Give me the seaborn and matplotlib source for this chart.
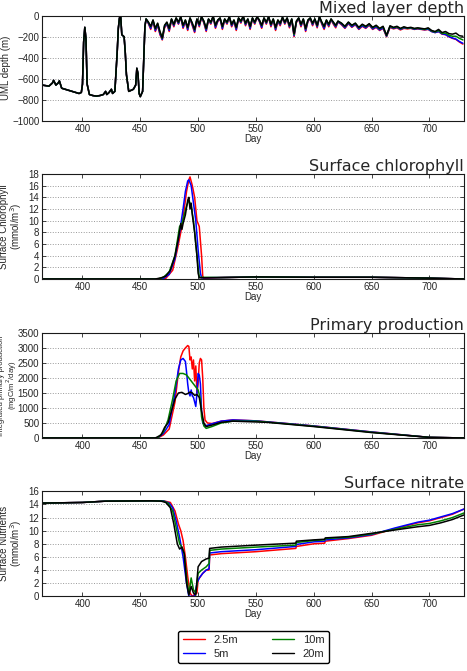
import numpy as np
import pandas as pd
import seaborn as sns
import matplotlib.pyplot as plt

depths = ['2.5m', '5m', '10m', '20m']
colors = ['red', 'blue', 'green', 'black']

# mixed layer depth - early part shared by all runs
mld_early_day = [365, 368, 371, 374, 375, 377, 379, 380, 382, 385,
                 388, 391, 394, 397, 399, 400, 401, 402, 403, 404,
                 406, 409, 412, 415, 418, 420, 421, 423, 425, 426,
                 428, 430, 431, 432, 433, 434, 435, 436, 437, 438,
                 440, 442, 444, 446, 447, 448, 449, 450, 452, 453, 454]
mld_early = [-660, -665, -670, -640, -615, -660, -640, -620, -690, -700,
             -710, -720, -730, -740, -730, -650, -250, -110, -220, -650,
             -750, -760, -765, -760, -750, -720, -750, -730, -700, -740,
             -720, -350, -120, -20, 0, -180, -190, -200, -350, -560,
             -720, -710, -700, -660, -500, -550, -740, -770, -720, -420, -100]
mld_late_day = list(range(455, 621, 2)) + list(range(621, 731, 3))
mld_late = {
    '2.5m': [-35, -75, -130, -50, -150, -90, -180, -230, -115, -80,
             -150, -40, -105, -30, -80, -15, -120, -55, -140, -30,
             -95, -160, -40, -105, -15, -70, -150, -40, -80, -10,
             -120, -55, -30, -130, -40, -80, -15, -105, -55, -140,
             -30, -70, -10, -95, -40, -130, -30, -80, -15, -55,
             -120, -30, -80, -15, -105, -40, -140, -55, -95, -20,
             -80, -30, -115, -40, -200, -65, -30, -105, -40, -150,
             -55, -30, -95, -40, -115, -15, -80, -130, -55, -105,
             -40, -80, -115,
             -60, -85, -120, -75, -110, -85, -130, -100, -120, -90,
             -130, -110, -140, -120, -200, -110, -125, -115, -135, -120,
             -125, -120, -130, -125, -130, -135, -130, -150, -160, -150,
             -175, -180, -200, -215, -225, -250, -270],
    '5m': [-32, -70, -120, -45, -140, -85, -170, -225, -105, -75,
           -140, -35, -95, -25, -75, -12, -110, -50, -130, -25,
           -85, -150, -35, -95, -12, -62, -140, -35, -72, -8,
           -110, -50, -25, -120, -35, -72, -12, -95, -50, -130,
           -25, -62, -8, -85, -35, -120, -25, -72, -12, -50,
           -110, -25, -72, -12, -95, -35, -130, -50, -85, -18,
           -72, -25, -105, -35, -190, -60, -25, -95, -35, -140,
           -50, -25, -85, -35, -105, -12, -72, -120, -50, -95,
           -35, -72, -105,
           -58, -80, -115, -70, -105, -80, -125, -95, -115, -85,
           -125, -105, -135, -115, -195, -105, -120, -110, -130, -115,
           -120, -118, -128, -122, -128, -132, -128, -150, -160, -150,
           -172, -178, -198, -212, -222, -245, -262],
    '10m': [-30, -62, -105, -42, -125, -75, -155, -215, -95, -65,
            -125, -32, -85, -22, -65, -10, -95, -42, -115, -22,
            -75, -135, -32, -85, -10, -55, -125, -32, -65, -5,
            -95, -42, -22, -105, -32, -65, -10, -85, -42, -115,
            -22, -55, -5, -75, -32, -105, -22, -65, -10, -42,
            -95, -22, -65, -10, -85, -32, -115, -42, -75, -15,
            -65, -22, -95, -32, -180, -55, -22, -85, -32, -125,
            -42, -22, -75, -32, -95, -10, -65, -105, -42, -85,
            -32, -65, -95,
            -52, -72, -105, -62, -95, -72, -115, -85, -105, -80,
            -115, -95, -125, -105, -190, -100, -115, -105, -125, -110,
            -118, -114, -124, -119, -124, -129, -120, -145, -155, -140,
            -168, -165, -185, -195, -195, -215, -230],
    '20m': [-30, -60, -100, -40, -120, -70, -150, -210, -90, -60,
            -120, -30, -80, -20, -60, -10, -90, -40, -110, -20,
            -70, -130, -30, -80, -10, -50, -120, -30, -60, -5,
            -90, -40, -20, -100, -30, -60, -10, -80, -40, -110,
            -20, -50, -5, -70, -30, -100, -20, -60, -10, -40,
            -90, -20, -60, -10, -80, -30, -110, -40, -70, -15,
            -60, -20, -90, -30, -170, -50, -20, -80, -30, -120,
            -40, -20, -70, -30, -90, -10, -60, -100, -40, -80,
            -30, -60, -90,
            -50, -70, -100, -60, -90, -70, -110, -80, -100, -75,
            -110, -90, -120, -100, -185, -95, -110, -100, -120, -105,
            -115, -110, -120, -115, -120, -125, -115, -140, -150, -130,
            -160, -150, -170, -175, -165, -190, -195],
}

# surface chlorophyll
chl_day = {
    '2.5m': [365, 465, 472, 478, 482, 486, 488, 490, 492, 493, 495, 497, 499, 501, 503, 504, 505, 520, 550, 600, 650, 700, 730],
    '5m': [365, 465, 470, 475, 480, 484, 487, 489, 491, 492, 494, 496, 498, 500, 502, 503, 520, 550, 600, 650, 700, 730],
    '10m': [365, 465, 470, 475, 480, 484, 486, 488, 490, 492, 494, 496, 498, 500, 501, 520, 550, 600, 650, 700, 730],
    '20m': [365, 463, 468, 472, 476, 480, 483, 485, 486, 487, 489, 491, 492, 493, 494, 495, 497, 499, 500, 501, 520, 550, 600, 650, 700, 730],
}
chl_val = {
    '2.5m': [0, 0, 0.1, 1.5, 5, 9, 12, 15, 17, 17.5, 16, 14, 10, 9, 4, 0.5, 0.1, 0.25, 0.35, 0.3, 0.3, 0.15, 0],
    '5m': [0, 0, 0.1, 0.8, 3.5, 8, 12, 15, 16.8, 17, 16, 13, 10, 5, 1, 0.2, 0.25, 0.35, 0.3, 0.3, 0.15, 0],
    '10m': [0, 0, 0.3, 1.2, 4, 9, 9.5, 11, 12.5, 13.5, 12.5, 10, 6, 2, 0.3, 0.25, 0.35, 0.3, 0.3, 0.15, 0],
    '20m': [0, 0, 0.2, 0.5, 1.5, 4, 7, 9.5, 8.5, 9.5, 11, 13.5, 14, 12, 13, 11, 8, 4, 1, 0.2, 0.25, 0.35, 0.3, 0.3, 0.15, 0],
}

# integrated primary production
pp_day = {
    '2.5m': [365, 465, 470, 475, 480, 483, 485, 487, 489, 491, 492, 493, 494, 495, 496, 497, 498, 499, 500, 501, 502, 503, 504, 505, 506, 508, 512, 520, 530, 550, 580, 600, 650, 700, 730],
    '5m': [365, 465, 470, 475, 480, 483, 485, 487, 489, 490, 491, 492, 493, 494, 495, 496, 497, 498, 499, 500, 501, 502, 503, 504, 506, 510, 520, 530, 550, 580, 600, 650, 700, 730],
    '10m': [365, 465, 470, 474, 478, 481, 484, 487, 490, 493, 496, 498, 500, 502, 503, 505, 507, 512, 520, 530, 550, 580, 600, 650, 700, 730],
    '20m': [365, 463, 468, 471, 474, 477, 480, 483, 486, 489, 491, 493, 495, 497, 499, 501, 503, 505, 507, 512, 520, 530, 560, 600, 650, 700, 730],
}
pp_val = {
    '2.5m': [0, 0, 100, 300, 1200, 2200, 2700, 2900, 3000, 3080, 3050, 2600, 2700, 2300, 2600, 1900, 2400, 1500, 1800, 2500, 2650, 2600, 2000, 1000, 600, 500, 480, 560, 600, 570, 470, 400, 200, 20, 0],
    '5m': [0, 0, 150, 450, 1500, 2300, 2600, 2650, 2550, 2200, 1800, 1500, 1400, 1600, 1400, 1350, 1200, 1050, 1500, 2150, 2100, 1800, 900, 500, 400, 450, 560, 600, 570, 470, 400, 200, 20, 0],
    '10m': [0, 0, 200, 600, 1300, 1900, 2150, 2150, 2100, 1950, 1800, 1700, 1600, 1300, 700, 400, 320, 380, 500, 560, 560, 460, 390, 190, 20, 0],
    '20m': [0, 0, 100, 350, 500, 900, 1300, 1500, 1520, 1450, 1480, 1530, 1500, 1420, 1450, 1350, 900, 500, 380, 430, 520, 560, 520, 380, 180, 20, 0],
}

# surface nitrate
no3_day = {
    '2.5m': [365, 400, 420, 460, 470, 476, 480, 483, 485, 487, 489, 491, 493, 495, 497, 499, 500, 502, 504, 507, 509.5, 510, 520, 550, 584.5, 585, 600, 609.5, 610, 630, 650, 670, 690, 700, 710, 720, 730],
    '5m': [365, 400, 420, 460, 470, 475, 478, 481, 484, 487, 490, 492, 495, 497, 499, 501, 504, 507, 509.5, 510, 520, 550, 584.5, 585, 600, 609.5, 610, 630, 650, 670, 690, 700, 710, 720, 730],
    '10m': [365, 400, 420, 460, 470, 474, 478, 481, 484, 486, 488, 490, 492, 494, 496, 498, 500, 503, 507, 509.5, 510, 520, 550, 584.5, 585, 600, 609.5, 610, 630, 650, 670, 690, 700, 710, 720, 730],
    '20m': [365, 400, 420, 460, 468, 472, 476, 479, 482, 484, 486, 488, 490, 492, 494, 496, 498, 500, 503, 507, 509.5, 510, 520, 550, 584.5, 585, 600, 609.5, 610, 630, 650, 670, 690, 700, 710, 720, 730],
}
no3_val = {
    '2.5m': [14.2, 14.3, 14.5, 14.55, 14.55, 14.3, 13, 11, 10, 8.5, 6, 3, 0.5, 0, 0.3, 0.5, 2.5, 3, 3.5, 4, 4, 6.3, 6.5, 6.8, 7.3, 7.6, 8, 8.1, 8.4, 8.8, 9.3, 10.3, 11.2, 11.5, 12, 12.5, 13.3],
    '5m': [14.2, 14.3, 14.5, 14.55, 14.55, 14.2, 13.5, 11.5, 9, 6, 2, 0, 0, 0, 2, 2.8, 3.5, 4, 4.2, 6.6, 6.8, 7.1, 7.6, 7.9, 8.3, 8.4, 8.6, 8.9, 9.4, 10.4, 11.3, 11.6, 12.1, 12.6, 13.3],
    '10m': [14.2, 14.3, 14.5, 14.55, 14.5, 14.2, 13, 10.5, 8, 7.5, 6.5, 3, 0.3, 2.8, 1, 0.5, 3.5, 4, 4.5, 5, 7, 7.2, 7.5, 7.8, 8.2, 8.5, 8.6, 8.8, 9, 9.5, 10.2, 10.9, 11.1, 11.5, 12, 12.7],
    '20m': [14.2, 14.3, 14.5, 14.55, 14.5, 14.3, 13.5, 11, 8, 7.2, 7.5, 6.5, 2, 0.2, 1.5, 0.5, 0.2, 4.5, 5.3, 5.7, 5.8, 7.3, 7.5, 7.8, 8.1, 8.4, 8.6, 8.7, 8.9, 9.1, 9.6, 10.1, 10.6, 10.8, 11.2, 11.7, 12.4],
}


def long_df(days, vals):
    rows = []
    for d in depths:
        for x, y in zip(days[d], vals[d]):
            rows.append((x, y, d))
    return pd.DataFrame(rows, columns=['day', 'value', 'depth'])


mld_days = {d: mld_early_day + mld_late_day for d in depths}
mld_vals = {d: mld_early + mld_late[d] for d in depths}

sns.set_style('ticks')
plt.rcParams['font.family'] = ['Liberation Sans', 'DejaVu Sans']
plt.rcParams['xtick.direction'] = 'in'
plt.rcParams['ytick.direction'] = 'in'
plt.rcParams['xtick.top'] = True
plt.rcParams['ytick.right'] = True

fig = plt.figure(figsize=(4.67, 6.71), dpi=100)
pal = dict(zip(depths, colors))

# (days, values, title, ylabel, ylim, yticks, axes bottom, ylabel x, ylabel size)
panels = [
    (mld_days, mld_vals, 'Mixed layer depth', 'UML depth (m)', (-1000, 0), np.arange(-1000, 1, 200), 0.820, -0.074, 7),
    (chl_day, chl_val, 'Surface chlorophyll', 'Surface Chlorophyll\n(mmol/m$^3$)', (0, 18), np.arange(0, 19, 2), 0.5842, -0.042, 7),
    (pp_day, pp_val, 'Primary production', 'Integrated primary production\n(mgC/m$^2$/day)', (0, 3500), np.arange(0, 3501, 500), 0.3473, -0.055, 5.5),
    (no3_day, no3_val, 'Surface nitrate', 'Surface Nutrients\n(mmol/m$^3$)', (0, 16), np.arange(0, 17, 2), 0.1113, -0.042, 7),
]

for days, vals, title, ylabel, ylim, yticks, bottom, lx, lsize in panels:
    ax = fig.add_axes([0.09, bottom, 0.9036, 0.1565])
    df = long_df(days, vals)
    sns.lineplot(data=df, x='day', y='value', hue='depth', palette=pal,
                 hue_order=depths, estimator=None, lw=1.1, ax=ax, legend=False)
    ax.set_xlim(365, 730)
    ax.set_ylim(*ylim)
    ax.set_yticks(yticks)
    ax.set_xticks(np.arange(400, 701, 50))
    ax.yaxis.grid(True, linestyle=':', color='0.6', lw=0.7)
    ax.tick_params(labelsize=7, length=3, width=0.6, colors='0.15', pad=2)
    ax.set_xlabel('Day', fontsize=7, labelpad=0, color='0.15')
    ax.set_ylabel(ylabel, fontsize=lsize, color='0.15', linespacing=0.95)
    ax.yaxis.set_label_coords(lx, 0.5)
    ax.set_title(title, loc='right', fontsize=11.5, pad=1, family='DejaVu Sans')
    for s in ax.spines.values():
        s.set_color('0.1')
        s.set_linewidth(0.8)

handles = [plt.Line2D([], [], color=c, lw=1.0) for c in colors]
fig.legend(handles, depths, loc='center', bbox_to_anchor=(0.543, 0.036),
           ncol=2, fontsize=8, frameon=True, edgecolor='black',
           handlelength=2.0, columnspacing=3.0, borderpad=0.4,
           labelspacing=0.3, fancybox=True, framealpha=1)

fig.savefig('out.png', dpi=100)
